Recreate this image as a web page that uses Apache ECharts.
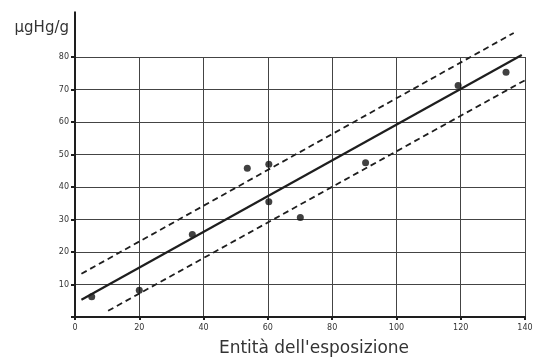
<!DOCTYPE html>
<html>
<head>
<meta charset="utf-8">
<script src="https://cdn.jsdelivr.net/npm/echarts@6/dist/echarts.min.js"></script>
<style>html,body{margin:0;padding:0;background:#fff}#c{width:540px;height:357px}</style>
</head>
<body>
<div id="c"></div>
<script>
// Observed points
const expX = [5.2, 20, 36.5, 53.6, 60.3, 60.3, 70.1, 90.4, 119.2, 134.1];
const hgY  = [6.2, 8.2, 25.4, 45.8, 47.0, 35.5, 30.6, 47.5, 71.2, 75.3];
// Regression line and confidence band endpoints
const fitX = [2, 139];
const fitY = [5.3, 80.6];
const upperX = [2, 136.5];
const upperY = [13.3, 87.4];
const lowerX = [10.3, 143];
const lowerY = [1.9, 74.5];
// Axis line extensions beyond the grid
const yAxisExtX = [0, 0];
const yAxisExtY = [80, 94];
const xAxisExtX = [-5.5, 0];
const xAxisExtY = [0, 0];

const zip = (a, b) => a.map((v, i) => [v, b[i]]);
const ink = '#1e1e1e';
const chart = echarts.init(document.getElementById('c'), null, {renderer: 'canvas'});
chart.setOption({
  animation: false,
  backgroundColor: '#fff',
  grid: {left: 75, right: 15, top: 57, bottom: 40, containLabel: false, outerBoundsMode: 'none'},
  xAxis: {
    type: 'value', min: 0, max: 140, interval: 20,
    name: "Entità dell'esposizione", nameLocation: 'middle', nameGap: 23,
    nameTextStyle: {fontFamily: 'DejaVu Sans', fontSize: 17, color: '#333', padding: [0, 0, 0, 28]},
    axisLine: {lineStyle: {color: ink, width: 2}},
    axisTick: {show: true, length: 3, lineStyle: {color: ink, width: 2}},
    axisLabel: {fontSize: 8, color: '#333', margin: 7, fontFamily: 'DejaVu Sans'},
    splitLine: {show: true, lineStyle: {color: '#444', width: 1}}
  },
  yAxis: {
    type: 'value', min: 0, max: 80, interval: 10,
    name: 'μgHg/g', nameLocation: 'end', nameGap: 21,
    nameTextStyle: {fontFamily: 'DejaVu Sans', fontSize: 15, color: '#333', align: 'right', padding: [0, 6, 0, 0]},
    axisLine: {lineStyle: {color: ink, width: 2}},
    axisTick: {show: true, length: 4, lineStyle: {color: ink, width: 2}},
    axisLabel: {fontSize: 8, color: '#333', margin: 6, fontFamily: 'DejaVu Sans',
      formatter: v => v === 0 ? '' : String(v)},
    splitLine: {show: true, lineStyle: {color: '#444', width: 1}}
  },
  series: [
    {type: 'line', data: zip(yAxisExtX, yAxisExtY), clip: false, symbol: 'none', silent: true,
     lineStyle: {color: ink, width: 2}},
    {type: 'line', data: zip(xAxisExtX, xAxisExtY), clip: false, symbol: 'none', silent: true,
     lineStyle: {color: ink, width: 2}},
    {type: 'line', data: zip(fitX, fitY), clip: false, symbol: 'none',
     lineStyle: {color: ink, width: 2.2}},
    {type: 'line', data: zip(upperX, upperY), clip: false, symbol: 'none',
     lineStyle: {color: ink, width: 1.8, type: [6, 4]}},
    {type: 'line', data: zip(lowerX, lowerY), clip: false, symbol: 'none',
     lineStyle: {color: ink, width: 1.8, type: [6, 4]}},
    {type: 'scatter', data: zip(expX, hgY), symbolSize: 7, itemStyle: {color: '#111'}}
  ]
});
</script>
</body>
</html>
